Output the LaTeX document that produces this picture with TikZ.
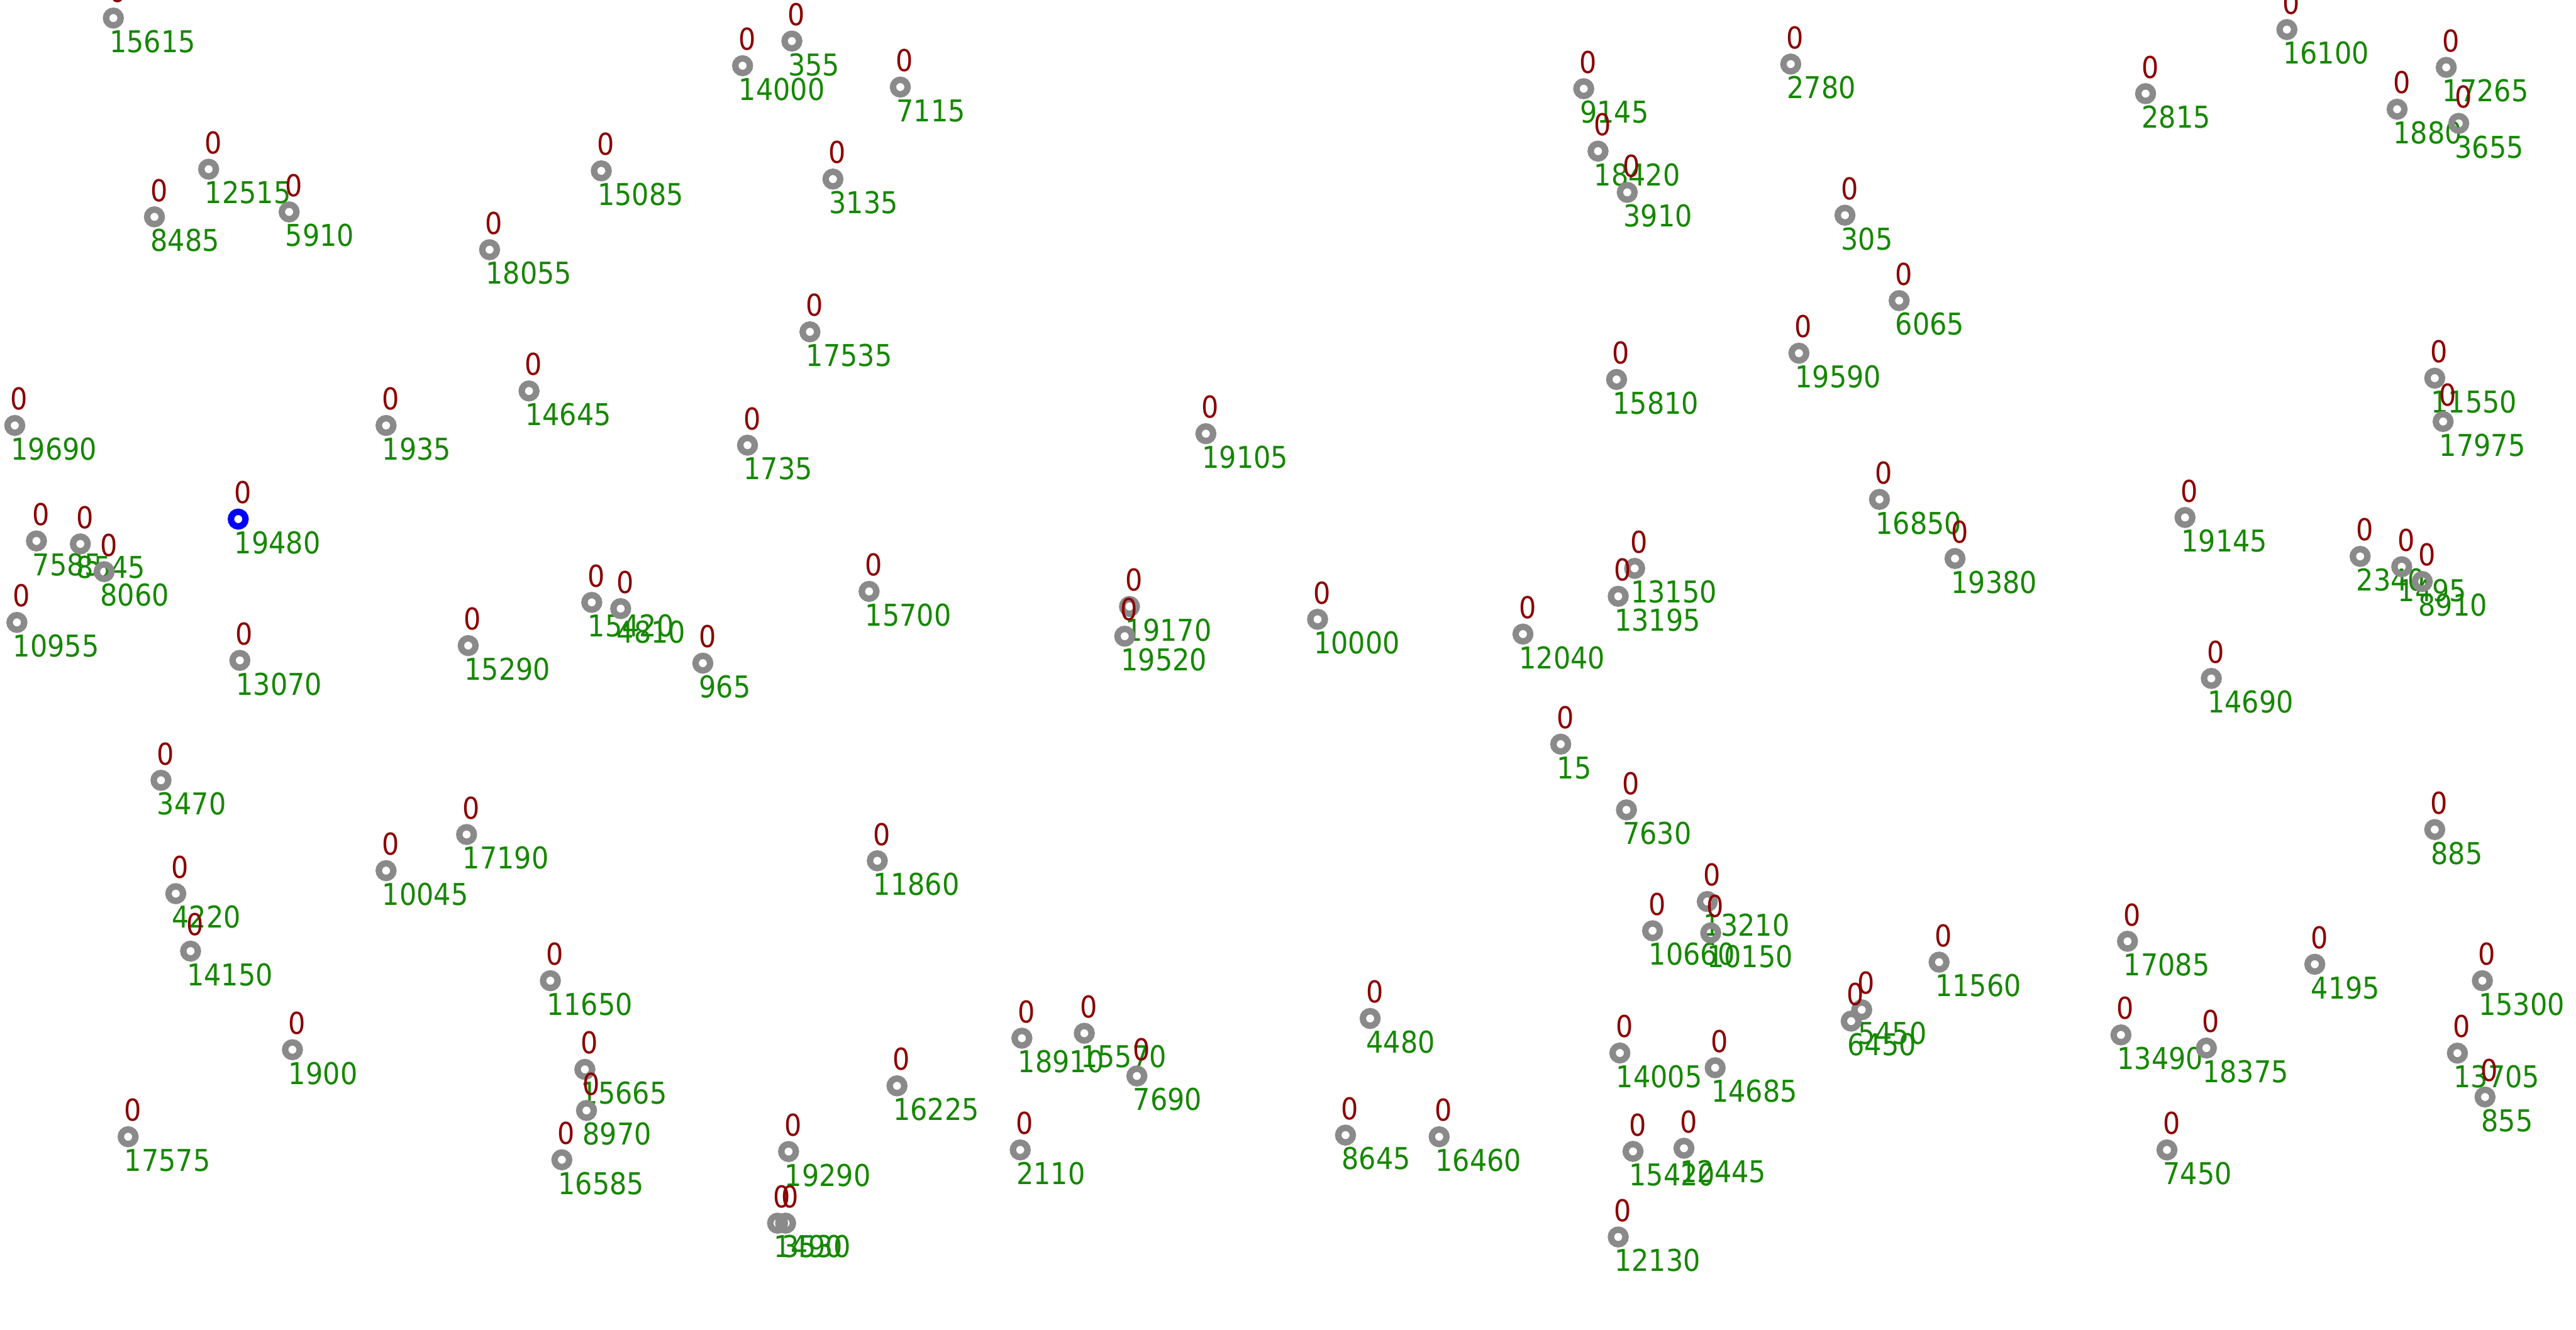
\documentclass[tikz,border=0pt]{standalone}
\usepackage{fontspec}
\setmainfont{DejaVu Sans Condensed}
\definecolor{ringgray}{HTML}{8A8A8A}
\definecolor{zerored}{HTML}{8B0000}
\definecolor{numgreen}{HTML}{158700}
\definecolor{ringblue}{HTML}{0000FF}
\tikzset{
  ring/.style={circle,draw=ringgray,line width=3.9pt,minimum size=8.9pt,inner sep=0pt},
  bluering/.style={ring,draw=ringblue},
  zerolab/.style={anchor=base west,inner sep=0pt,text=zerored,font=\fontsize{18.3}{20}\selectfont},
  numlab/.style={anchor=base west,inner sep=0pt,text=numgreen,font=\fontsize{18.3}{20}\selectfont}
}
\begin{document}
\begin{tikzpicture}[x=1pt,y=-1pt]
\useasboundingbox (0,0) rectangle (1568,809.4);
\foreach \px/\py/\lab [count=\i] in {
69/11/15615, 452/40/14000, 482/25/355, 548/53/7115, 127/103/12515, 176/129/5910,
94/132/8485, 366/104/15085, 507/109/3135, 298/152/18055, 493/202/17535, 322/238/14645,
235/259/1935, 455/271/1735, 734/264/19105, 9/259/19690, 22.2/329.3/7585, 48.9/331.1/8545,
63.4/348/8060, 10.3/378.9/10955, 146/402/13070, 285/393/15290,
360.2/366.7/15420, 377.8/370.5/4810, 427.8/403.7/965, 529/360/15700, 687.5/369.2/19170,
684.6/387.3/19520, 802/377/10000, 927/386/12040, 995/346/13150, 985/363/13195, 950/453/15,
990/493/7630, 98/475/3470, 107/544/4220, 116/579/14150, 235/530/10045, 284/508/17190,
534/524/11860, 335/597/11650, 178/639/1900, 356/651/15665, 357/676/8970, 342/706/16585,
78/692/17575, 480/701/19290, 473.3/744.6/1490, 478.2/744.6/3530, 622/632/18910,
660/629/15570, 692/655/7690, 546/661/16225, 621/700/2110, 834/620/4480, 819/691/8645,
876/692/16460, 986/641/14005, 1044/650/14685, 994/700.9/15420, 1025/699/12445,
985/753/12130, 1005.9/566.6/10660, 1039.2/548.8/13210, 1041.3/567.9/10150,
1133.2/614.7/5450, 1126.8/621.6/6450, 1180.3/585.7/11560, 1295/573/17085, 1291/630/13490,
1343/638/18375, 1319/700/7450, 1409/587/4195, 1511/597/15300, 1495.8/641.1/13705,
1512.6/667.8/855, 1482/505/885, 1346/413/14690, 1330/315/19145, 1436.6/338.7/2340,
1461.9/345/1495, 1474.4/354/8910, 1482/230.2/11550, 1487.1/256.6/17975, 1144/304/16850,
1190/340/19380, 984/231/15810, 1095/215/19590, 1156/183/6065, 1123/131/305, 1090/39/2780,
964/54/9145, 972.7/92/18420, 990.5/117.1/3910, 1306/57/2815, 1392/18/16100,
1489/41/17265, 1459.1/66.5/1880, 1496.6/75.1/3655}
{
  \node[ring] (p\i) at (\px,\py) {};
  \node[zerolab] (z\i) at ([xshift=-2.7pt,yshift=9.5pt]p\i.center) {0};
  \node[numlab] (n\i) at ([xshift=-2.5pt,yshift=-21pt]p\i.center) {\lab};
}
\node[bluering] (pblue) at (145,316) {};
\node[zerolab] (zblue) at ([xshift=-2.7pt,yshift=9.5pt]pblue.center) {0};
\node[numlab] (nblue) at ([xshift=-2.5pt,yshift=-21pt]pblue.center) {19480};
\end{tikzpicture}
\end{document}
